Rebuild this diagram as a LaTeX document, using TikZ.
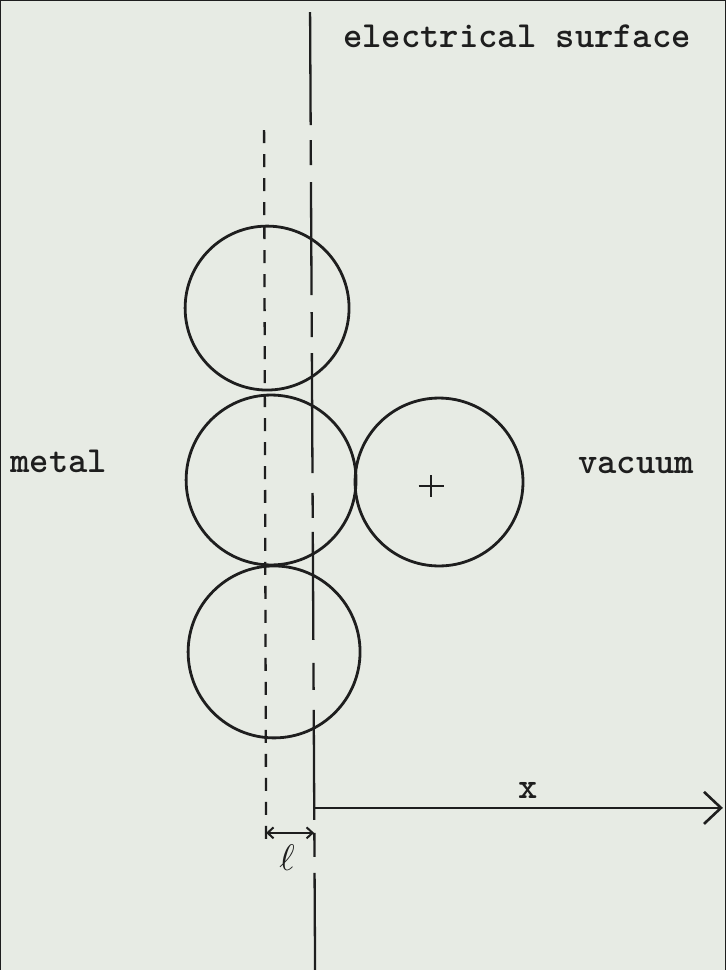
\documentclass[tikz,border=0pt]{standalone}
\usepackage{fontspec}
\usetikzlibrary{arrows.meta}
\definecolor{paper}{HTML}{E7EBE4}
\definecolor{ink}{HTML}{1E1E1E}
\begin{document}
\begin{tikzpicture}[x=1pt,y=-1pt,
  every path/.style={draw=ink},
  lbl/.style={inner sep=0pt,anchor=base west,text=ink,font=\ttfamily\bfseries\fontsize{36.8}{40}\selectfont},
  atom/.style={circle,draw=ink,line width=2.8pt,inner sep=0pt},
  surf/.style={line width=2.3pt,draw=ink},
  guide/.style={line width=2.3pt,draw=ink,dash pattern=on 13pt off 11pt},
  cross/.style={line width=2.8pt,draw=ink},
  axis/.style={line width=2.6pt,draw=ink,-{Straight Barb[length=17pt,width=32pt,line width=2.6pt]}},
  dim/.style={line width=2pt,draw=ink,{Straight Barb[length=6pt,width=11pt]}-{Straight Barb[length=6pt,width=11pt]}}]
\fill[paper] (0,0) rectangle (725,970);
\useasboundingbox (0,0) rectangle (725,970);

% atoms
\node[atom,minimum size=164pt] (top) at (267,308) {};
\node[atom,minimum size=170pt] (mid) at (271,480) {};
\node[atom,minimum size=172pt] (bot) at (274,652) {};
\node[atom,minimum size=168pt] (ion) at (439,482) {};
\coordinate (plus) at (431,486);
\draw[cross] ([xshift=-12.5pt]plus) -- ([xshift=12.5pt]plus);
\draw[cross] ([yshift=-11pt]plus) -- ([yshift=11pt]plus);

% electrical surface line (irregular typed dashes)
\foreach \a/\b in {12/125,140/165,182/295,312/337,353/473,493/518,532/640,663/690,710/820,833/857,873/970}{
  \draw[surf] ({310+(\a-12)*5/958},\a) -- ({310+(\b-12)*5/958},\b);
}
% metal boundary guide line
\coordinate (gtop) at (264,130);
\coordinate (gbot) at (266,840);
\draw[guide] (gtop) -- (gbot);

% x axis
\coordinate (o) at (314.6,808);
\coordinate (xend) at (723,808);
\draw[axis] (o) -- (xend);
\node[lbl,anchor=base] (xl) at (528,799) {x};

% l dimension
\coordinate (la) at (266,833);
\coordinate (lb) at (314,833);
\draw[dim] (la) -- (lb);
\node[inner sep=0pt,text=ink,scale=3.7] (ell) at (287,858) {$\ell$};

% labels
\node[lbl] (es) at (343,47) {electrical surface};
\node[lbl] (metal) at (10,472) {metal};
\node[lbl] (vac) at (578,473) {vacuum};
\end{tikzpicture}
\end{document}
